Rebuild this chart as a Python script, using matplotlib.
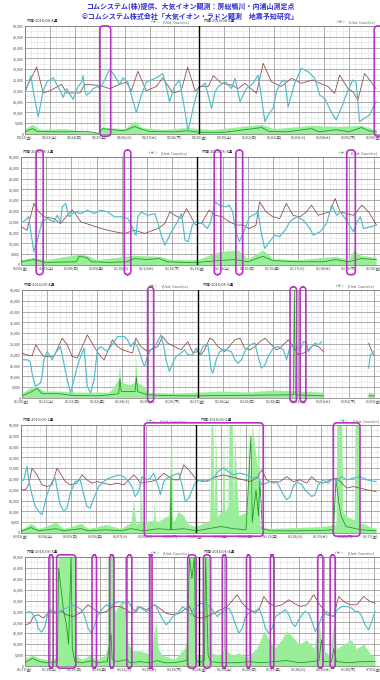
import matplotlib.pyplot as plt
from matplotlib.patches import FancyBboxPatch
from matplotlib.transforms import blended_transform_factory
import numpy as np

plt.rcParams['font.family'] = ['Noto Sans CJK JP', 'DejaVu Sans']

nan = np.nan

TITLE1 = "コムシステム(株)提供、大気イオン観測：房総鴨川・内浦山測定点"
TITLE2 = "©コムシステム株式会社「大気イオン・ラドン観測　地震予知研究」"
UNIT = "(Unit: Count/cc)"

# ---------------- panel 1 : 2016/04 week 4-5 ----------------
p1_titles = ["内浦-2016/04-4週", "内浦-2016/04-5週"]
p1_days = ["04/22(金)", "04/23(土)", "04/24(日)", "04/25(月)", "04/26(火)", "04/27(水)", "04/28(木)",
           "04/29(金)", "04/30(土)", "05/01(日)", "05/02(月)", "05/03(火)", "05/04(水)", "05/05(木)", "05/06(金)"]
p1_brown_t = [0.0, 0.47, 0.73, 1.0, 1.47, 1.67, 2.2, 2.4, 3.0, 3.4, 3.8, 4.07, 4.27, 4.53, 4.87, 5.27, 5.53, 5.93,
              6.27, 6.53, 6.83, 7.0, 7.36, 7.56, 7.89, 8.29, 8.56, 8.83, 9.29, 9.56, 9.89, 10.29, 10.69, 11.09,
              11.56, 11.83, 12.16, 12.43, 12.63, 12.96, 13.16, 13.36, 13.63, 13.89, 14.09]
p1_brown_v = [20000, 31000, 19000, 20000, 23000, 19000, 19000, 23000, 22500, 21000, 23000, 24000, 20000, 29000,
              20000, 22000, 26000, 19000, 20000, 31000, 20000, 22000, 22000, 27000, 23500, 22700, 21000, 23500,
              18800, 32700, 24200, 22000, 25800, 23500, 25000, 23500, 22000, 18800, 27300, 21100, 19600, 15700,
              28000, 24200, 21000]
p1_cyan_t = [0.0, 0.24, 0.33, 0.53, 0.73, 0.87, 1.13, 1.33, 1.53, 1.67, 1.93, 2.13, 2.27, 2.33, 2.4, 2.47, 2.6,
             2.73, 2.93, 3.0, 3.2, 3.4, 3.6, 3.8, 3.93, 4.13, 4.27, 4.47, 4.67, 4.87, 5.07, 5.27, 5.53, 5.67, 5.8,
             6.0, 6.2, 6.4, 6.53, 6.6, 6.76, 6.96, 7.23, 7.49, 7.63, 7.76, 8.03, 8.29, 8.43, 8.63, 8.89, 9.16,
             9.36, 9.63, 9.76, 9.96, 10.09, 10.29, 10.43, 10.56, 10.83, 11.09, 11.36, 11.63, 11.83, 12.03, 12.29,
             12.49, 12.69, 12.96, 13.16, 13.29, 13.43, 13.63, 13.83, 14.09]
p1_cyan_v = [19000, 27000, 20000, 8000, 20000, 24000, 26000, 22000, 17000, 21000, 16000, 22000, 24000, 27000,
             20000, 18000, 19000, 21000, 22000, 21000, 25000, 30000, 27000, 23000, 26000, 24000, 18000, 10000,
             18000, 24000, 25000, 26000, 28000, 22000, 15000, 22000, 25000, 12000, 2000, 4200, 12600, 21100,
             23500, 11900, 19600, 22000, 24200, 21100, 25800, 15000, 21100, 23500, 27300, 5700, 8800, 11900,
             19600, 24200, 25000, 12600, 23500, 30400, 28900, 25800, 18000, 16500, 10300, 6500, 11900, 20000,
             25000, 24000, 5700, 7300, 8800, 15000]
p1_gline_t = [0, 0.3, 0.5, 1.5, 2.5, 2.98, 3.1, 3.5, 4.0, 4.4, 4.6, 5.0, 6.0, 6.5, 7.0, 8.0, 9.5, 9.8, 10.5, 11.5,
              11.8, 12.5, 13.0, 13.5, 13.8, 14.1]
p1_gline_v = [1000, 2500, 1200, 1000, 1200, 300, 2500, 2000, 1500, 3500, 2500, 1200, 1000, 1500, 800, 800, 3000,
              1200, 1000, 2500, 1000, 2000, 1000, 3000, 1500, 1000]
p1_gfill_t = [0, 0.3, 0.6, 1.5, 2.98, 3.1, 3.13, 3.15, 3.17, 4.0, 4.4, 4.7, 5.5, 6.5, 7.5, 9.5, 10.0, 11.5, 12.5,
              13.5, 14.1]
p1_gfill_v = [2500, 4500, 2000, 2500, 500, 3500, 3500, 50000, 3000, 2500, 6000, 3000, 2000, 3000, 2000, 4500, 2500,
              4000, 3500, 4000, 2000]
p1_marks = [(3.0, 3.44), (14.02, 14.6)]

# ---------------- panel 2 : 2016/05 week 2-3 ----------------
p2_titles = ["内浦-2016/05-2週", "内浦-2016/05-3週"]
p2_days = ["05/06(金)", "05/07(土)", "05/08(日)", "05/09(月)", "05/10(火)", "05/11(水)", "05/12(木)",
           "05/13(金)", "05/14(土)", "05/15(日)", "05/16(月)", "05/17(火)", "05/18(水)", "05/19(木)", "05/20(金)"]
p2_brown_t = [0, 0.24, 0.51, 0.71, 0.91, 1.31, 1.57, 1.84, 2.04, 2.17, 2.37, 2.77, 3.17, 3.71, 4.11, 4.51, 4.91,
              5.44, 5.71, 5.91, 6.11, 6.37, 6.57, 6.93, 7.2, 7.47, 7.73, 8.0, 8.27, 8.53, 8.8, 9.07, 9.33, 9.47,
              9.73, 10.0, 10.27, 10.53, 10.8, 11.07, 11.33, 11.53, 11.8, 12.0, 12.27, 12.47, 12.67, 12.93, 13.2,
              13.53, 13.8, 14.11]
p2_brown_v = [17700, 16100, 28500, 24600, 22300, 21500, 19200, 23000, 25400, 23500, 20000, 18500, 16900, 15400,
              14600, 16100, 14600, 16900, 19200, 24600, 23000, 21500, 26100, 18500, 20000, 25400, 23000, 22300,
              20000, 18500, 18500, 16900, 18500, 29200, 24600, 22300, 21500, 28500, 23000, 22300, 24600, 27700,
              23000, 23800, 24600, 30800, 24600, 23800, 23000, 27700, 24600, 18500]
p2_cyan_t = [0, 0.17, 0.31, 0.37, 0.51, 0.64, 0.71, 0.84, 1.04, 1.31, 1.44, 1.57, 1.64, 1.77, 1.91, 2.11, 2.37,
             2.64, 2.91, 3.17, 3.44, 3.71, 3.97, 4.24, 4.44, 4.57, 4.64, 4.77, 5.04, 5.31, 5.44, 5.57, 5.71, 5.84,
             5.97, 6.17, 6.37, 6.51, 6.64, 6.8, 6.93, 7.2, 7.4, 7.53, 7.71, 7.87, 8.13, 8.27, 8.4, 8.53, 8.67,
             8.87, 9.07, 9.33, 9.4, 9.53, 9.67, 9.87, 10.07, 10.27, 10.53, 10.67, 10.93, 11.2, 11.47, 11.6, 11.87,
             12.13, 12.33, 12.53, 12.67, 12.87, 13.2, 13.33, 13.47, 13.6, 13.87, 14.11]
p2_cyan_v = [19200, 20800, 22300, 16900, 6200, 10800, 14600, 20000, 21500, 20000, 23000, 20000, 26900, 28500,
             22300, 24600, 23800, 25400, 23800, 25400, 24600, 22300, 22300, 21500, 16900, 13800, 22300, 24600,
             23000, 23800, 19200, 13800, 9200, 12300, 15400, 19200, 23800, 11500, 10800, 18500, 20000, 19200,
             16900, 20000, 29200, 27700, 26900, 27700, 24600, 15400, 10800, 16100, 22300, 23800, 25400, 15400,
             7700, 10800, 13800, 13100, 16900, 20000, 22300, 20800, 16900, 13800, 15400, 19200, 27700, 23000,
             24600, 21500, 15400, 20000, 22300, 16900, 17700, 18500]
p2_gline_t = [0, 0.5, 1.0, 2.2, 2.3, 2.6, 2.8, 3.5, 4.2, 4.5, 5.0, 5.5, 5.8, 6.5, 7.0, 7.8, 8.5, 9.0, 9.6, 10.0,
              11.0, 12.0, 12.5, 13.0, 13.5, 14.1]
p2_gline_v = [1500, 2500, 1200, 1500, 4000, 3500, 1500, 1200, 1500, 3000, 2500, 3000, 1500, 1200, 1200, 2000, 2500,
              1500, 4000, 2000, 1500, 1500, 2500, 1500, 3000, 2500]
p2_gfill_t = [0, 0.5, 1.0, 2.3, 2.6, 3.0, 4.5, 5.5, 6.0, 7.0, 7.8, 8.6, 9.0, 9.6, 10.0, 11.0, 12.5, 13.0, 13.2,
              13.5, 14.1]
p2_gfill_v = [2500, 3500, 2500, 5000, 4500, 2500, 4500, 4000, 2500, 2500, 6000, 7000, 3000, 7000, 3000, 2500, 4000,
              2500, 7000, 4500, 3500]
p2_marks = [(0.6, 0.88), (4.1, 4.36), (7.67, 7.93), (8.53, 8.8), (12.93, 13.27)]

# ---------------- panel 3 : 2016/05 week 4-5 ----------------
p3_titles = ["内浦-2016/05-4週", "内浦-2016/05-5週"]
p3_days = ["05/20(金)", "05/21(土)", "05/22(日)", "05/23(月)", "05/24(火)", "05/25(水)", "05/26(木)",
           "05/27(金)", "05/28(土)", "05/29(日)", "05/30(月)", "05/31(火)", "06/01(水)", "06/02(木)", "06/03(金)"]
p3_brown_t = [0, 0.2, 0.4, 0.55, 0.67, 0.87, 1.27, 1.6, 1.8, 2.0, 2.2, 2.6, 2.87, 3.13, 3.27, 3.6, 3.8, 4.0, 4.4,
              4.53, 4.73, 5.0, 5.13, 5.4, 5.6, 5.8, 6.07, 6.33, 6.6, 6.8, 7.0, 7.13, 7.27, 7.47, 7.6, 7.8, 8.07,
              8.47, 8.67, 8.87, 9.07, 9.27, 9.47, 9.67, 9.93, 10.13, 10.27, 10.4, 10.6, 10.8, 11.0, 11.2, 11.4,
              11.6, 11.8, 12.0, 12.5, 13.8, 13.93, 14.0]
p3_brown_v = [20800, 20000, 19500, 24600, 22300, 19200, 19200, 27700, 24600, 19200, 18500, 29200, 23800, 19200,
              17700, 26900, 23800, 22300, 20800, 27700, 23800, 21500, 22300, 23800, 28500, 25400, 23800, 22300,
              26100, 21000, 21500, 20000, 22300, 27700, 26900, 23800, 21500, 26900, 27700, 23100, 22300, 23800,
              26100, 27700, 24600, 22300, 23100, 24600, 26900, 23800, 20000, 20800, 22300, 24600, 23800, 21500,
              nan, 25400, 21500, 20000]
p3_cyan_t = [0, 0.2, 0.33, 0.4, 0.53, 0.73, 0.8, 0.87, 1.0, 1.2, 1.33, 1.53, 1.8, 1.93, 2.07, 2.2, 2.33, 2.47, 2.6,
             2.73, 2.87, 3.0, 3.13, 3.4, 3.67, 3.8, 4.07, 4.2, 4.33, 4.47, 4.6, 4.73, 4.87, 5.0, 5.13, 5.33, 5.53,
             5.67, 5.73, 5.87, 6.0, 6.13, 6.33, 6.47, 6.6, 6.8, 6.93, 7.07, 7.2, 7.4, 7.53, 7.6, 7.73, 7.87, 8.07,
             8.33, 8.47, 8.6, 8.73, 8.87, 9.07, 9.27, 9.4, 9.53, 9.67, 9.8, 10.0, 10.2, 10.4, 10.53, 10.67, 10.87,
             11.07, 11.2, 11.33, 11.4, 11.53, 11.67, 11.8, 11.93, 12.5, 13.8, 13.87, 14.0]
p3_cyan_v = [17700, 17700, 16900, 11500, 5400, 6900, 10000, 17700, 21500, 17700, 20800, 23800, 8500, 2300, 8500,
             14600, 19200, 23100, 5400, 2300, 8500, 22300, 23800, 21500, 26100, 28500, 28500, 26900, 23800,
             26100, 23800, 19200, 14600, 19200, 22300, 24600, 29200, 22300, 17700, 12300, 16100, 19200, 20800,
             22300, 20000, 20000, 23100, 20000, 23800, 24600, 13100, 11500, 17700, 21500, 22300, 21500, 17700,
             16100, 17700, 21500, 24600, 25400, 19200, 13800, 15400, 19200, 23100, 23800, 22300, 17700, 23800,
             23800, 22300, 26100, 25400, 21500, 23800, 25400, 24600, 26100, nan, 13800, 20000, 21500]
p3_gline_t = [0, 0.4, 0.6, 0.8, 1.5, 2.0, 3.0, 3.5, 3.85, 3.9, 3.95, 4.3, 4.5, 4.55, 4.6, 5.0, 5.5, 6.5, 7.0, 10.8,
              10.84, 10.88, 12.0, 12.5, 13.8, 14.0]
p3_gline_v = [1000, 3000, 4500, 2000, 2000, 1200, 1000, 1500, 2000, 9000, 3000, 3000, 3000, 10000, 3000, 1500, 1200,
              1000, 1000, 1500, 50000, 1500, 1000, nan, 1000, 1000]
p3_gfill_t = [0, 0.5, 0.9, 1.5, 2.0, 3.5, 3.85, 3.9, 3.95, 4.3, 4.5, 4.55, 4.6, 4.9, 5.0, 6.0, 7.0, 8.0, 9.0, 10.0,
              11.0, 12.0, 12.5, 13.8, 14.0]
p3_gfill_v = [2000, 5500, 3000, 3000, 2500, 2500, 8000, 15000, 7000, 6000, 7000, 18000, 7000, 5000, 2500, 2000,
              2500, 3000, 2500, 3500, 3000, 2500, nan, 2500, 2000]
p3_marks = [(5.0, 5.24), (10.67, 10.93), (11.07, 11.3)]

# ---------------- panel 4 : 2016/06 week 1-2 ----------------
p4_titles = ["内浦-2016/06-1週", "内浦-2016/06-2週"]
p4_days = ["06/03(金)", "06/04(土)", "06/05(日)", "06/06(月)", "06/07(火)", "06/08(水)", "06/09(木)",
           "06/10(金)", "06/11(土)", "06/12(日)", "06/13(月)", "06/14(火)", "06/15(水)", "06/16(木)", "06/17(金)"]
p4_brown_t = [0, 0.17, 0.31, 0.44, 0.64, 0.84, 1.04, 1.24, 1.44, 1.57, 1.77, 1.97, 2.24, 2.44, 2.64, 2.84, 3.04,
              3.31, 3.57, 3.84, 4.11, 4.31, 4.51, 4.64, 4.77, 5.17, 5.44, 5.71, 5.91, 6.11, 6.31, 6.51, 6.71, 7.03,
              7.29, 7.56, 7.83, 8.09, 8.36, 8.63, 8.89, 9.16, 9.43, 9.63, 9.83, 10.09, 10.36, 10.63, 10.89, 11.16,
              11.43, 11.63, 11.83, 12.09, 12.36, 12.63, 12.83, 13.03, 13.29, 13.56, 13.83, 14.2]
p4_brown_v = [20000, 20000, 22300, 30000, 26900, 22300, 21500, 22300, 30000, 27700, 23800, 22300, 23100, 26900,
              24600, 23100, 23800, 23100, 22300, 23100, 22300, 24600, 26900, 25400, 23100, 23800, 24600, 27700,
              26100, 24600, 24600, 31500, 29200, 24600, 23800, 24600, 26100, 26900, 26100, 25400, 24600, 23800,
              25400, 29200, 24600, 23100, 23800, 26100, 23800, 24600, 23100, 26100, 23800, 23100, 24600, 25400,
              23100, 20800, 21500, 20800, 20000, 19200]
p4_cyan_t = [0, 0.11, 0.24, 0.31, 0.44, 0.57, 0.71, 0.84, 0.91, 1.04, 1.24, 1.37, 1.51, 1.57, 1.71, 1.84, 1.97,
             2.17, 2.37, 2.51, 2.64, 2.77, 2.91, 3.11, 3.31, 3.51, 3.71, 3.91, 4.11, 4.31, 4.44, 4.57, 4.71, 4.84,
             5.04, 5.17, 5.31, 5.51, 5.57, 5.71, 5.84, 5.97, 6.11, 6.31, 6.44, 6.57, 6.71, 6.96, 7.16, 7.43, 7.69,
             7.89, 8.09, 8.29, 8.49, 8.76, 9.03, 9.29, 9.49, 9.63, 9.96, 10.23, 10.36, 10.49, 10.63, 10.76, 10.89,
             11.03, 11.23, 11.36, 11.63, 11.76, 11.89, 12.09, 12.29, 12.49, 12.63, 12.83, 13.03, 13.29, 13.56,
             13.83, 14.2]
p4_cyan_v = [23800, 24600, 30800, 24600, 17700, 12300, 10000, 8500, 11500, 17700, 23800, 25400, 16100, 13100,
             10000, 11500, 18500, 23800, 24600, 17700, 12300, 11500, 16100, 21500, 23800, 25400, 26100, 26900,
             26100, 23800, 21500, 16900, 19200, 26100, 24600, 25400, 27700, 20800, 17700, 23800, 25400, 26100,
             26900, 27700, 22300, 14600, 16100, 23100, 24600, 23800, 25400, 28500, 30000, 28500, 26900, 27700,
             26900, 25400, 26100, 22300, 23800, 23800, 20800, 17700, 15400, 16900, 21500, 23800, 22300, 20000,
             16900, 17700, 22300, 24600, 23100, 25400, 23800, 26100, 24600, 25400, 26100, 24600, 23800]
p4_gline_t = [0, 0.4, 0.7, 1.4, 1.7, 2.4, 2.7, 3.4, 4.0, 4.4, 4.9, 5.5, 5.98, 6.0, 6.02, 6.5, 7.0, 7.5, 8.0, 8.5,
              9.0, 9.2, 9.25, 9.4, 9.5, 9.55, 9.6, 9.65, 10.0, 11.0, 12.0, 12.5, 12.6, 12.7, 12.8, 13.0, 13.4,
              13.6, 14.2]
p4_gline_v = [800, 2500, 1000, 2000, 1000, 2000, 1000, 1500, 1000, 2000, 1000, 2000, 1500, 25000, 1500, 2000, 1000,
              2000, 3000, 2000, 1500, 45000, 5000, 20000, 8000, 24000, 15000, 2000, 1000, 1000, 1200, 1500, 25000,
              15000, 8000, 3000, 2000, 1500, 1000]
p4_gfill_t = [0, 0.4, 0.7, 1.4, 1.7, 2.4, 2.7, 3.4, 4.0, 4.4, 4.5, 4.6, 4.75, 4.78, 4.85, 5.3, 5.32, 5.4, 5.9, 6.02,
              6.06, 6.1, 6.3, 6.5, 6.7, 7.0, 7.55, 7.6, 7.68, 7.72, 7.8, 7.85, 8.05, 8.1, 8.15, 8.28, 8.32, 8.45,
              8.5, 8.55, 8.7, 9.05, 9.1, 9.2, 9.25, 9.45, 9.5, 9.55, 9.7, 10.0, 11.0, 12.0, 12.6, 12.63, 12.83,
              12.87, 13.0, 13.33, 13.36, 13.49, 13.52, 14.2]
p4_gfill_v = [1500, 4500, 2000, 5000, 2000, 4500, 2000, 4000, 2000, 5000, 15000, 4000, 5000, 24000, 5000, 6000,
              15000, 5000, 8000, 50000, 8000, 5000, 10000, 8000, 4000, 3000, 6000, 50000, 50000, 8000, 45000, 8000,
              10000, 50000, 10000, 12000, 50000, 50000, 10000, 45000, 8000, 10000, 50000, 12000, 50000, 30000,
              50000, 4000, 2500, 2000, 2500, 3000, 4000, 50000, 50000, 10000, 8000, 6000, 50000, 50000, 5000, 2000]
p4_marks = [(4.93, 9.69), (12.49, 13.56)]

# ---------------- panel 5 : 2016/06 week 3-4 ----------------
p5_titles = ["内浦-2016/06-3週", "内浦-2016/06-4週"]
p5_days = ["06/17(金)", "06/18(土)", "06/19(日)", "06/20(月)", "06/21(火)", "06/22(水)", "06/23(木)",
           "06/24(金)", "06/25(土)", "06/26(日)", "06/27(月)", "06/28(火)", "06/29(水)", "06/30(木)", "07/01(金)"]
p5_brown_t = [0, 0.2, 0.33, 0.53, 0.73, 1.0, 1.2, 1.47, 1.67, 1.93, 2.2, 2.53, 2.8, 3.0, 3.27, 3.53, 3.8, 4.07,
              4.27, 4.47, 4.6, 4.87, 5.2, 5.4, 5.67, 5.93, 6.2, 6.47, 6.6, 6.79, 7.05, 7.32, 7.59, 7.85, 8.12, 8.52,
              8.72, 8.99, 9.19, 9.39, 9.59, 9.79, 10.05, 10.32, 10.59, 10.79, 11.05, 11.32, 11.59, 11.79, 11.99,
              12.12, 12.39, 12.59, 12.79, 13.05, 13.32, 13.59, 13.85, 14.05]
p5_brown_v = [18900, 19500, 22700, 23500, 22000, 25000, 24200, 25000, 23500, 22700, 24200, 28100, 25800, 24200,
              25000, 27300, 27300, 25800, 24200, 25000, 27300, 25800, 28100, 26500, 24200, 23500, 24200, 26500,
              27300, 22700, 21900, 22700, 24200, 25800, 27300, 32700, 28800, 25800, 25000, 25800, 31900, 28800,
              27300, 28100, 30400, 28800, 27300, 28100, 32700, 28800, 25800, 23500, 22700, 31900, 29600, 28100,
              28100, 31900, 29600, 28800]
p5_cyan_t = [0, 0.2, 0.33, 0.47, 0.53, 0.67, 0.8, 0.93, 1.07, 1.2, 1.33, 1.47, 1.67, 1.87, 2.07, 2.27, 2.4, 2.53,
             2.67, 2.8, 2.93, 3.13, 3.27, 3.4, 3.6, 3.8, 4.0, 4.13, 4.27, 4.4, 4.53, 4.67, 4.87, 5.0, 5.13, 5.27,
             5.4, 5.53, 5.67, 5.8, 5.93, 6.13, 6.33, 6.47, 6.67, 6.79, 7.05, 7.32, 7.52, 7.72, 7.85, 8.05, 8.19,
             8.32, 8.45, 8.59, 8.72, 8.85, 9.05, 9.25, 9.39, 9.52, 9.65, 9.79, 9.92, 10.05, 10.25, 10.45, 10.59,
             10.72, 10.85, 10.99, 11.12, 11.25, 11.39, 11.52, 11.65, 11.79, 11.92, 12.12, 12.25, 12.39, 12.52,
             12.72, 12.92, 13.12, 13.25, 13.39, 13.52, 13.65, 13.79, 13.92, 14.05]
p5_cyan_v = [24200, 25000, 23500, 20400, 17300, 15500, 18100, 25000, 25800, 25000, 24200, 25800, 26500, 28100,
             27300, 25800, 22700, 17300, 15000, 18900, 23500, 26500, 28100, 27300, 28800, 29600, 28800, 29600,
             27300, 25000, 27300, 26500, 25000, 25800, 28100, 27300, 24200, 21200, 18900, 20400, 22700, 24200,
             27300, 25800, 23500, 26500, 28800, 28100, 25800, 22700, 24200, 25800, 26500, 23500, 18900, 15000,
             17300, 22700, 25000, 24200, 26500, 22700, 17300, 15000, 17300, 22700, 24200, 25800, 23500, 19600,
             18100, 21200, 23500, 25000, 24200, 20400, 15800, 18900, 22700, 25000, 23500, 22700, 25800, 27300,
             27300, 26500, 25000, 25000, 22700, 18900, 16600, 20400, 25000]
p5_gline_t = [0, 0.3, 0.6, 0.9, 1.3, 1.35, 1.45, 1.55, 1.65, 1.75, 1.85, 1.9, 2.0, 2.3, 2.7, 2.85, 3.3, 3.45, 3.5,
              3.7, 4.1, 4.2, 4.6, 5.0, 5.3, 5.6, 6.0, 6.5, 6.6, 6.7, 6.8, 6.85, 7.0, 7.2, 7.25, 7.35, 7.45, 7.9,
              8.5, 9.0, 9.5, 10.0, 10.5, 11.0, 11.5, 11.8, 11.9, 12.0, 12.3, 12.4, 12.5, 13.0, 13.5, 14.05]
p5_gline_v = [1500, 3500, 2000, 1500, 2000, 45000, 35000, 25000, 20000, 10000, 50000, 8000, 2000, 1500, 2500, 1500,
              2000, 15000, 3000, 2000, 3000, 1500, 2000, 1500, 2500, 1500, 1500, 2500, 50000, 40000, 50000, 3000,
              1500, 2500, 50000, 5000, 2000, 1500, 1500, 2000, 1500, 2000, 2500, 1500, 2000, 2500, 12000, 2000,
              2000, 8000, 2000, 1500, 2000, 2000]
p5_gfill_t = [0, 0.3, 0.6, 0.9, 1.3, 1.33, 2.02, 2.05, 2.3, 2.6, 2.9, 3.2, 3.3, 3.33, 3.55, 3.6, 3.9, 4.05, 4.15,
              4.3, 4.6, 4.9, 5.0, 5.25, 5.35, 5.5, 5.8, 6.0, 6.4, 6.53, 6.56, 6.84, 6.88, 7.15, 7.18, 7.44, 7.48,
              7.8, 8.0, 8.3, 8.6, 8.9, 9.3, 9.6, 9.8, 10.0, 10.3, 10.5, 10.7, 11.0, 11.3, 11.6, 11.8, 11.95, 12.2,
              12.4, 12.5, 12.8, 13.1, 13.3, 13.6, 13.9, 14.05]
p5_gfill_v = [3500, 5000, 3500, 3000, 4000, 50000, 50000, 5000, 3000, 5000, 3000, 5000, 8000, 50000, 50000, 25000,
              30000, 20000, 10000, 7000, 7000, 6000, 3000, 20000, 8000, 5000, 4000, 3000, 8000, 12000, 50000, 50000,
              5000, 5000, 50000, 50000, 6000, 5000, 8000, 5000, 6000, 4000, 8000, 16000, 12000, 8000, 12000, 16000,
              14000, 10000, 12000, 8000, 20000, 8000, 5000, 20000, 8000, 10000, 12000, 8000, 10000, 5000, 4000]
p5_marks = [(0.96, 1.13), (1.27, 2.04), (2.69, 2.87), (3.4, 3.57), (4.09, 4.29), (5.0, 5.1), (6.53, 6.87),
            (7.16, 7.45), (7.92, 8.08), (8.89, 9.05), (9.85, 9.99), (11.75, 11.96), (12.25, 12.45)]

# layout in pixels of the 380x680 canvas
W, H = 380, 680
panel_top = [26, 157, 290, 425, 557]
panel_bottom = [134, 265, 398, 533, 666]
panel_left = [25, 21, 22, 21, 25]
panel_mid = [201, 198, 200, 196, 202]
mark_span = [(-0.02, 1.0), (-0.09, 1.065), (-0.04, 1.03), (-0.03, 1.02), (-0.02, 1.02)]

CYAN = '#3fb6c6'
CYAN_SOFT = '#9adbe4'
BROWN = '#8a4444'
GREEN = '#1f9e1f'
GREEN_FILL = '#9aee9a'
MAGENTA = '#b833c0'

panels = [
    (p1_titles, p1_days, p1_brown_t, p1_brown_v, p1_cyan_t, p1_cyan_v, p1_gline_t, p1_gline_v, p1_gfill_t, p1_gfill_v, p1_marks),
    (p2_titles, p2_days, p2_brown_t, p2_brown_v, p2_cyan_t, p2_cyan_v, p2_gline_t, p2_gline_v, p2_gfill_t, p2_gfill_v, p2_marks),
    (p3_titles, p3_days, p3_brown_t, p3_brown_v, p3_cyan_t, p3_cyan_v, p3_gline_t, p3_gline_v, p3_gfill_t, p3_gfill_v, p3_marks),
    (p4_titles, p4_days, p4_brown_t, p4_brown_v, p4_cyan_t, p4_cyan_v, p4_gline_t, p4_gline_v, p4_gfill_t, p4_gfill_v, p4_marks),
    (p5_titles, p5_days, p5_brown_t, p5_brown_v, p5_cyan_t, p5_cyan_v, p5_gline_t, p5_gline_v, p5_gfill_t, p5_gfill_v, p5_marks),
]

fig = plt.figure(figsize=(W / 100, H / 100), dpi=100)
fig.patch.set_facecolor('white')

fig.text(0.5, 1 - 6 / H, TITLE1, ha='center', va='center', color='#2f2fd8', fontsize=5.0, fontweight='bold')
fig.text(0.5, 1 - 16 / H, TITLE2, ha='center', va='center', color='#2f2fd8', fontsize=5.0, fontweight='bold')

for i, (titles, days, bt, bv, ct, cv, glt, glv, gft, gfv, marks) in enumerate(panels):
    top, bot, left, mid = panel_top[i], panel_bottom[i], panel_left[i], panel_mid[i]
    ax = fig.add_axes([left / W, 1 - bot / H, (W - left) / W, (bot - top) / H])
    px_day = (mid - left) / 7
    xmax = (W - left) / px_day
    ax.set_xlim(0, xmax)
    ax.set_ylim(0, 50000)

    # grid: solid per day / 5,000, dashed per 6 h / 2,500
    ax.set_xticks(np.arange(0, 15))
    ax.set_xticks(np.arange(0, 14.5, 0.25), minor=True)
    ax.set_yticks(np.arange(0, 50001, 5000))
    ax.set_yticks(np.arange(2500, 50000, 5000), minor=True)
    ax.grid(which='major', color='#8c8c8c', lw=0.5, ls='-')
    ax.grid(which='minor', color='#c4c4c4', lw=0.4, ls=(0, (1.5, 1.5)))
    ax.set_axisbelow(True)
    ax.tick_params(which='both', length=0, pad=1.2, labelsize=2.6, labelcolor='#444444')
    ax.set_xticklabels(days)
    ax.set_yticklabels([f"{int(v):,}" for v in np.arange(0, 50001, 5000)])
    for s in ax.spines.values():
        s.set_color('#777777')
        s.set_linewidth(0.5)
    ax.spines['right'].set_visible(False)

    # data
    ax.fill_between(gft, 0, gfv, color=GREEN_FILL, lw=0, zorder=2)
    ax.plot(glt, glv, color=GREEN, lw=0.6, zorder=3)
    ax.plot(bt, bv, color=BROWN, lw=0.55, zorder=4)
    ax.plot(ct, cv, color=CYAN_SOFT, lw=1.1, alpha=0.6, zorder=5)
    ax.plot(ct, cv, color=CYAN, lw=0.6, zorder=6)

    ax.axvline(7, color='black', lw=1.0, zorder=7)

    # highlight marks
    tr = blended_transform_factory(ax.transData, ax.transAxes)
    lo, hi = mark_span[i]
    for x0, x1 in marks:
        box = FancyBboxPatch((x0, lo), x1 - x0, hi - lo,
                             boxstyle="round,pad=0,rounding_size=0.14",
                             mutation_aspect=0.25,
                             transform=tr, fill=False, edgecolor=MAGENTA,
                             lw=1.2, clip_on=False, zorder=8)
        ax.add_patch(box)

    # headers
    ax.text(0.7, 1.03, titles[0], transform=tr, ha='center', va='bottom', fontsize=2.8, color='#333333')
    ax.text(7.8, 1.03, titles[1], transform=tr, ha='center', va='bottom', fontsize=2.8, color='#333333')
    for xr in (6.6, xmax - 0.05):
        unit = ax.text(xr, 1.02, UNIT, transform=tr, ha='right', va='bottom', fontsize=2.5, color='#555555')
        ax.annotate("イオン", xy=(0, 0), xycoords=unit, xytext=(-2.5, 0), textcoords='offset points',
                    ha='right', va='bottom', fontsize=2.5, color='#4aa24a')

fig.savefig('out.png', dpi=100, facecolor='white')
